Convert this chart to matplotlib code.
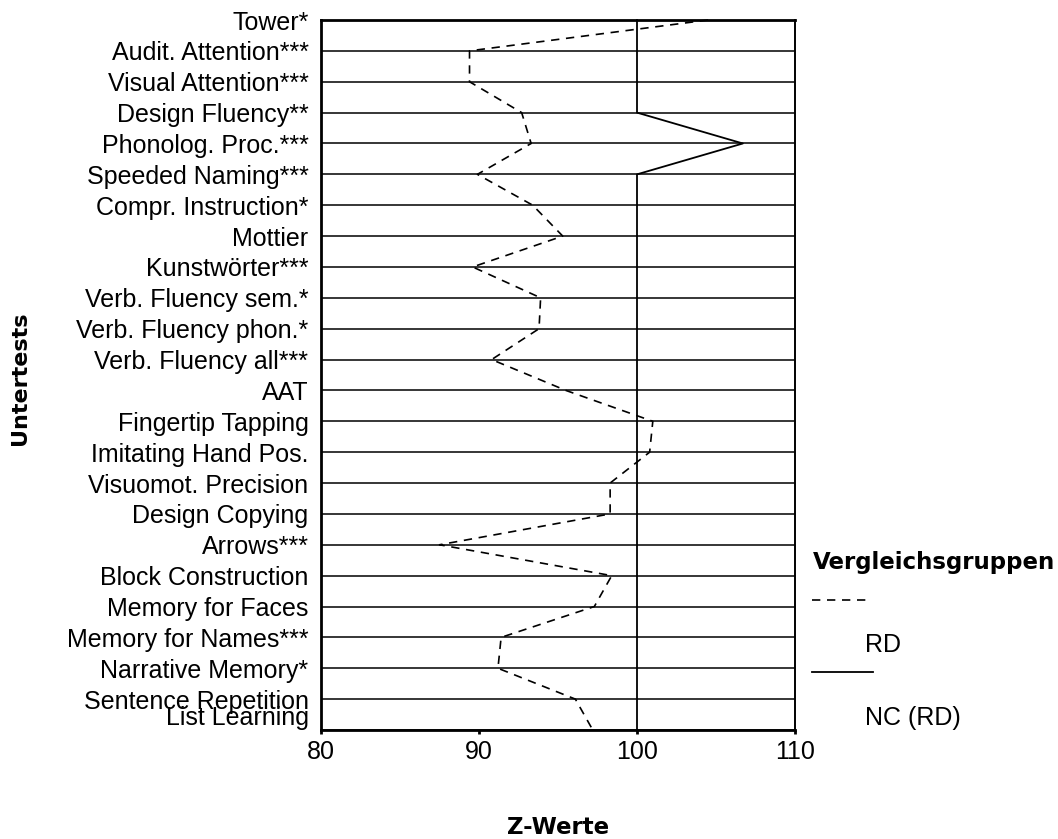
import numpy as np
import matplotlib.pyplot as plt
from matplotlib.lines import Line2D
from matplotlib.transforms import ScaledTranslation

plt.rcParams['font.family'] = ['Liberation Sans', 'DejaVu Sans']

untertests = ["Tower*", "Audit. Attention***", "Visual Attention***", "Design Fluency**",
              "Phonolog. Proc.***", "Speeded Naming***", "Compr. Instruction*", "Mottier",
              "Kunstwörter***", "Verb. Fluency sem.*", "Verb. Fluency phon.*",
              "Verb. Fluency all***", "AAT", "Fingertip Tapping", "Imitating Hand Pos.",
              "Visuomot. Precision", "Design Copying", "Arrows***", "Block Construction",
              "Memory for Faces", "Memory for Names***", "Narrative Memory*",
              "Sentence Repetition", "List Learning"]

# Z-Werte der Gruppe RD
rd = [104.5, 89.4, 89.4, 92.7, 93.3, 89.9, 93.4, 95.3, 89.6, 93.9, 93.8, 90.8,
      95.5, 101.0, 100.8, 98.3, 98.3, 87.5, 98.4, 97.3, 91.4, 91.2, 96.1, 97.2]
# Z-Werte der Gruppe NC (RD)
nc = [100, 100, 100, 100, 106.7, 100, 100, 100, 100, 100, 100, 100,
      100, 100, 100, 100, 100, 100, 100, 100, 100, 100, 100, 100]

x_ticks = [80, 90, 100, 110]

fig = plt.figure(figsize=(10.58, 8.39), dpi=100)
ax = fig.add_axes([321/1058, 1 - 730/839, 474/1058, 710/839])

pos = np.arange(len(untertests))

# horizontale Linien an jeder Kategorie
for p in pos:
    ax.axhline(p, color="black", lw=1.1, zorder=1)

ax.plot(rd, pos, color="black", lw=1.2, ls=(0, (5, 4)), zorder=3, clip_on=False)
ax.plot(nc, pos, color="black", lw=1.3, zorder=3, clip_on=False)

ax.set_xlim(80, 110)
ax.set_ylim(len(untertests) - 1, 0)
ax.set_xticks(x_ticks)
ax.set_yticks(pos)
ax.set_yticklabels(untertests)
ax.tick_params(axis="y", length=0, pad=9, labelsize=18)
ax.tick_params(axis="x", length=3, width=2, pad=4, labelsize=18, direction="out")

# letzte Beschriftung etwas nach oben versetzt
lbl = ax.get_yticklabels()[-1]
lbl.set_transform(lbl.get_transform() + ScaledTranslation(0, 0.15, fig.dpi_scale_trans))

for side in ["left", "top", "bottom"]:
    ax.spines[side].set_linewidth(2)
ax.spines["right"].set_linewidth(1.4)

fig.text(20/1058, 1 - 378/839, "Untertests", rotation=90, ha="center", va="center",
         fontsize=16, fontweight="heavy", family="DejaVu Sans")
fig.text(558/1058, 1 - 827/839, "Z-Werte", ha="center", va="center",
         fontsize=16.5, fontweight="heavy", family="DejaVu Sans")

# Legende
fig.text(813/1058, 1 - 562/839, "Vergleichsgruppen", ha="left", va="center",
         fontsize=16.5, fontweight="heavy", family="DejaVu Sans")
fig.lines.append(Line2D([812/1058, 868/1058], [1 - 600/839, 1 - 600/839],
                        transform=fig.transFigure, color="black", lw=1.2, ls=(0, (5, 4))))
fig.text(865/1058, 1 - 645/839, "RD", ha="left", va="center", fontsize=18)
fig.lines.append(Line2D([812/1058, 873/1058], [1 - 672/839, 1 - 672/839],
                        transform=fig.transFigure, color="black", lw=1.3))
fig.text(865/1058, 1 - 718/839, "NC (RD)", ha="left", va="center", fontsize=18)

fig.savefig("out.png", dpi=100)
